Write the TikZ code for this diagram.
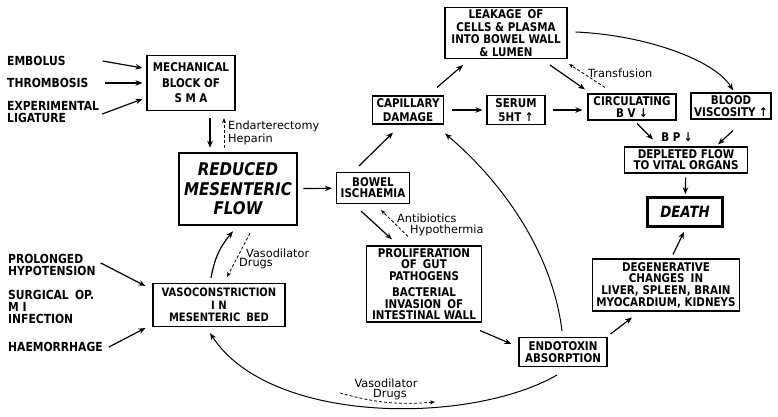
\documentclass[tikz,border=0pt]{standalone}
\usepackage{fontspec}
\setmainfont{DejaVu Sans}
\newfontfamily\boxfont{DejaVu Sans}[FakeStretch=0.86]
\usetikzlibrary{arrows.meta,calc}

\begin{document}
\begin{tikzpicture}[x=1pt, y=1pt,
  box/.style={draw, line width=1.1pt, inner sep=1pt, align=center,
              font=\boxfont\bfseries\fontsize{12}{12}\selectfont},
  heavybox/.style={box, line width=2.6pt, font=\boxfont\bfseries\itshape\fontsize{17.5}{19.5}\selectfont},
  cause/.style={anchor=west, inner sep=0pt, align=left, font=\boxfont\bfseries\fontsize{12.5}{12}\selectfont},
  note/.style={inner sep=0pt, align=left, font=\fontsize{11.3}{12.8}\selectfont},
  arr/.style={-{Stealth[length=7pt,width=5.5pt]}, line width=1.2pt},
  darr/.style={-{Stealth[length=5pt,width=4pt]}, line width=0.8pt, dash pattern=on 3pt off 2pt},
  curv/.style={-{Stealth[length=7pt,width=5.5pt]}, line width=1pt}
]
\useasboundingbox (0,0) rectangle (778,417);

% Causes (left)
\node[cause] (embolus)   at (7,356) {EMBOLUS};
\node[cause] (thromb)    at (7,334) {THROMBOSIS};
\node[cause] (ligature)  at (7,305) {EXPERIMENTAL\\LIGATURE};
\node[cause] (prolonged) at (8,152) {PROLONGED\\HYPOTENSION};
\node[cause] (surgical)  at (8,110) {SURGICAL\enspace OP.\\M I\\INFECTION};
\node[cause] (haem)      at (8,70)  {HAEMORRHAGE};

% Boxes
\node[box, minimum width=88pt, minimum height=55pt, font=\boxfont\bfseries\fontsize{12}{15.5}\selectfont]
  (mech) at (191,334) {MECHANICAL\\BLOCK OF\\S M A};
\node[heavybox, minimum width=118pt, minimum height=72pt] (reduced) at (238,228) {REDUCED\\MESENTERIC\\FLOW};
\node[box, minimum width=73pt, minimum height=31pt, font=\boxfont\bfseries\fontsize{12}{11}\selectfont]
  (bowel) at (373,229) {BOWEL\\ISCHAEMIA};
\node[box, minimum width=71pt, minimum height=28pt, font=\boxfont\bfseries\fontsize{12}{13.5}\selectfont]
  (capillary) at (408,307) {CAPILLARY\\DAMAGE};
\node[box, minimum width=122pt, minimum height=51pt, font=\boxfont\bfseries\fontsize{12}{12.7}\selectfont]
  (leakage) at (506,384) {LEAKAGE\enspace OF\\CELLS \& PLASMA\\INTO BOWEL WALL\\\& LUMEN};
\node[box, minimum width=58pt, minimum height=29pt, font=\boxfont\bfseries\fontsize{12}{13.5}\selectfont]
  (serum) at (516,307) {SERUM\\5HT ↑};
\node[box, minimum width=88pt, minimum height=26pt, font=\boxfont\bfseries\fontsize{12}{11.5}\selectfont]
  (circ) at (632,310) {CIRCULATING\\B V ↓};
\node[box, minimum width=80pt, minimum height=26pt, font=\boxfont\bfseries\fontsize{12}{11.5}\selectfont]
  (visc) at (731,311) {BLOOD\\VISCOSITY ↑};
\node[inner sep=0pt, font=\boxfont\bfseries\fontsize{12}{12}\selectfont] (bp) at (677,280) {B P ↓};
\node[box, minimum width=123pt, minimum height=26pt, font=\boxfont\bfseries\fontsize{12}{11}\selectfont]
  (depleted) at (686,257) {DEPLETED FLOW\\TO VITAL ORGANS};
\node[heavybox, minimum width=75pt, minimum height=29pt, font=\boxfont\bfseries\itshape\fontsize{15.5}{16}\selectfont]
  (death) at (685,205) {DEATH};
\node[box, minimum width=147pt, minimum height=52pt, font=\boxfont\bfseries\fontsize{12}{11.7}\selectfont]
  (degen) at (666,132) {DEGENERATIVE\\CHANGES\enspace IN\\LIVER, SPLEEN, BRAIN\\MYOCARDIUM, KIDNEYS};
\node[box, minimum width=88pt, minimum height=29pt] (endo) at (563,65) {ENDOTOXIN\\ABSORPTION};
\node[box, minimum width=115pt, minimum height=76pt, font=\boxfont\bfseries\fontsize{12}{11.5}\selectfont]
  (prolif) at (424,133) {PROLIFERATION\\OF\enspace GUT\\PATHOGENS\\[5pt]BACTERIAL\\INVASION\enspace OF\\INTESTINAL WALL};
\node[box, minimum width=132pt, minimum height=43pt, font=\boxfont\bfseries\fontsize{11.6}{12.5}\selectfont]
  (vaso) at (219,112) {VASOCONSTRICTION\\I N\\MESENTERIC\enspace BED};

% Small labels
\node[note, anchor=west] (endart)   at (228,284.5) {Endarterectomy\\Heparin};
\node[note, anchor=west] (vasodil)  at (246,164) {Vasodilator};
\node[note, anchor=west] (drugs)    at (239,153) {Drugs};
\node[note, anchor=west] (antib)    at (397,199) {Antibiotics};
\node[note, anchor=west] (hypoth)   at (410,187) {Hypothermia};
\node[note, anchor=west] (transf)   at (588,344) {Transfusion};
\node[note] (vasodilb) at (386,34) {Vasodilator};
\node[note] (drugsb)   at (390,22) {Drugs};

% Arrows
\draw[arr] ($(embolus.east)+(37,0)$) -- ($(mech.west)+(-4,15)$);
\draw[arr] ($(thromb.east)+(16,0)$) -- ($(mech.west)+(-4,0)$);
\draw[arr] ($(ligature.east)+(3,-2)$) -- ($(mech.west)+(-4,-16)$);
\draw[arr] ($(mech.south)+(19,-7)$) -- ($(mech.south |- reduced.north)+(19,4)$);
\draw[darr] ($(mech.south |- reduced.north)+(33,4)$) -- ($(mech.south)+(33,-7)$);
\draw[arr, shorten <=5pt, shorten >=4pt] (reduced) -- (bowel);
\draw[arr] ($(bowel.north)+(-14,6)$) -- ($(capillary.south)+(-15,-8)$);
\draw[arr] ($(bowel.south)+(-12,-7)$) -- ($(prolif.north)+(-32,6)$);
\draw[darr] ($(prolif.north)+(-16,9)$) -- ($(bowel.south)+(8,-6)$);
\draw[arr] ($(capillary.north)+(29,8)$) -- ($(leakage.south)+(-43,-6)$);
\draw[arr, shorten <=8pt, shorten >=4pt] (capillary) -- (serum);
\draw[arr] ($(serum.east)+(7,0)$) -- ($(serum.east -| circ.west)+(-5,0)$);
\draw[arr] ($(leakage.south)+(44,-6)$) -- ($(circ.north)+(-47,4)$);
\draw[darr] ($(circ.north)+(-27,6)$) -- ($(leakage.south)+(63,-5)$);
\draw[curv] ($(leakage.east)+(8,1)$) .. controls (645,382) and (715,357) .. ($(visc.north)+(2,2)$);
\draw[arr] ($(circ.south)+(5,-3)$) -- ($(depleted.north)+(-33,7)$);
\draw[arr] ($(visc.south)+(2,-11)$) -- ($(depleted.north)+(32,2)$);
\draw[arr, shorten <=4pt, shorten >=2pt] (depleted) -- (death);
\draw[arr] ($(degen.north)+(7,4)$) -- ($(death.south)+(-1,-4)$);
\draw[arr] ($(endo.north east)+(3,3)$) -- ($(degen.south)+(-34,-6)$);
\draw[curv] ($(endo.north)+(-1,6)$) .. controls (552,167) and (500,237) .. ($(capillary.south east)+(1,-9)$);
\draw[arr] ($(prolif.south east)+(-2,-8)$) -- ($(endo.west)+(-7,8)$);
\draw[curv] ($(endo.south)+(-6,-8)$) .. controls (470,-8) and (270,-8) .. ($(vaso.south)+(-9,-6)$);
\coordinate (vdA) at (340,24);
\coordinate (vdB) at (435,15);
\draw[darr] (vdA) to[bend right=10] (vdB);
\draw[arr] ($(prolonged.east)+(5,2)$) -- ($(vaso.west)+(-7,19)$);
\draw[arr] ($(haem.east)+(6,0)$) -- ($(vaso.west)+(-7,-23)$);
\draw[arr] ($(vaso.north)+(-8,5)$) to[bend left=15] ($(reduced.south)+(-5,-5)$);
\draw[darr] ($(reduced.south)+(12,-7)$) -- ($(vaso.north)+(8,6)$);

\end{tikzpicture}
\end{document}
